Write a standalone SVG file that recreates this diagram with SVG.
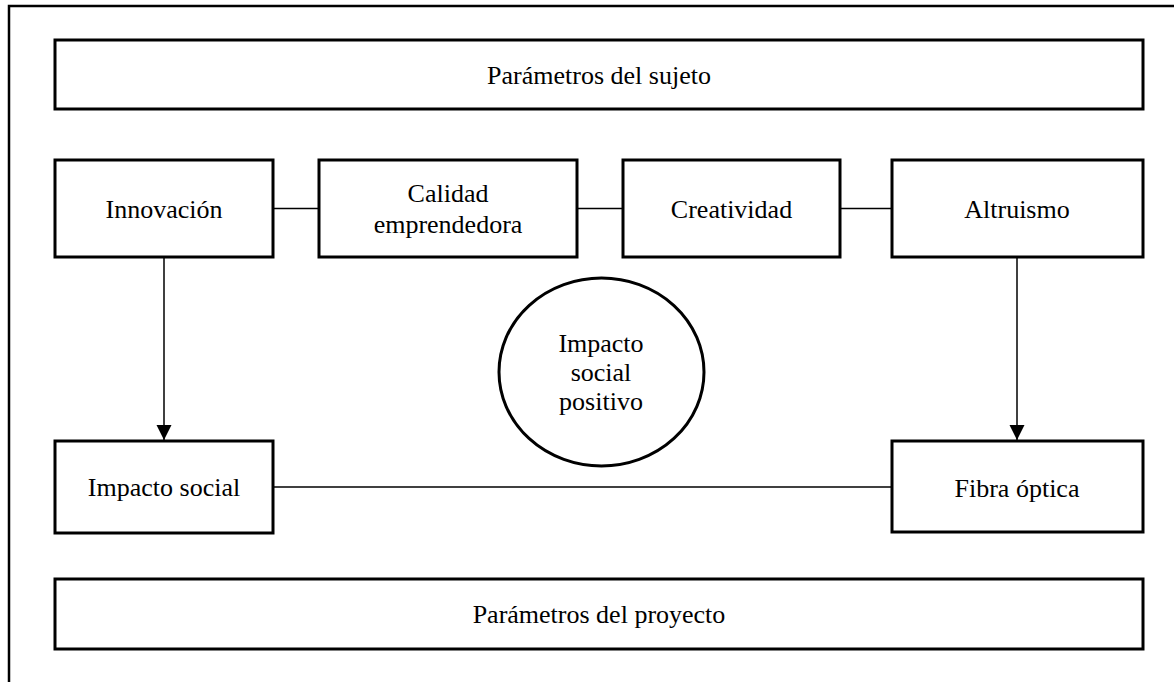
<svg xmlns="http://www.w3.org/2000/svg" width="1174" height="682" viewBox="0 0 1174 682">
<style>
.box{fill:#fff;stroke:#000;stroke-width:3}
.frame{fill:none;stroke:#000;stroke-width:2.5}
.lbl{font-family:"Liberation Serif","Times New Roman",serif;font-size:26px;fill:#000;text-anchor:middle}
.con{stroke:#000;stroke-width:1.5;fill:none}
</style>
<defs>
<marker id="arr" markerUnits="userSpaceOnUse" markerWidth="16" markerHeight="16" viewBox="0 0 16 16" refX="15" refY="8" orient="auto">
<path d="M0,0.5 L15,8 L0,15.5 Z" fill="#000"/>
</marker>
</defs>
<rect width="1174" height="682" fill="#fff"/>
<rect class="frame" x="9" y="6" width="1200" height="700"/>
<g id="connectors">
<line class="con" x1="273" y1="208.5" x2="319" y2="208.5"/>
<line class="con" x1="577" y1="208.5" x2="623" y2="208.5"/>
<line class="con" x1="840" y1="208.5" x2="892" y2="208.5"/>
<line class="con" x1="273" y1="487" x2="892" y2="487"/>
<line class="con" x1="164" y1="258" x2="164" y2="440" marker-end="url(#arr)"/>
<line class="con" x1="1017" y1="258" x2="1017" y2="440" marker-end="url(#arr)"/>
</g>
<g id="n-sujeto">
<rect class="box" x="55" y="40" width="1088" height="69"/>
<text class="lbl" x="599" y="84">Parámetros del sujeto</text>
</g>
<g id="n-innovacion">
<rect class="box" x="55" y="160" width="218" height="97"/>
<text class="lbl" x="164" y="218">Innovación</text>
</g>
<g id="n-calidad">
<rect class="box" x="319" y="160" width="258" height="97"/>
<text class="lbl" x="448" y="202">Calidad</text>
<text class="lbl" x="448" y="233">emprendedora</text>
</g>
<g id="n-creatividad">
<rect class="box" x="623" y="160" width="217" height="97"/>
<text class="lbl" x="731.5" y="218">Creatividad</text>
</g>
<g id="n-altruismo">
<rect class="box" x="892" y="160" width="251" height="97"/>
<text class="lbl" x="1017" y="218">Altruismo</text>
</g>
<g id="n-impacto-positivo">
<ellipse class="box" cx="601.5" cy="372" rx="102.5" ry="94"/>
<text class="lbl" x="601" y="352">Impacto</text>
<text class="lbl" x="601" y="381">social</text>
<text class="lbl" x="601" y="410">positivo</text>
</g>
<g id="n-impacto-social">
<rect class="box" x="55" y="441" width="218" height="92"/>
<text class="lbl" x="164" y="496">Impacto social</text>
</g>
<g id="n-fibra">
<rect class="box" x="892" y="441" width="251" height="91"/>
<text class="lbl" x="1017" y="497">Fibra óptica</text>
</g>
<g id="n-proyecto">
<rect class="box" x="55" y="579" width="1088" height="70"/>
<text class="lbl" x="599" y="623">Parámetros del proyecto</text>
</g>
</svg>
